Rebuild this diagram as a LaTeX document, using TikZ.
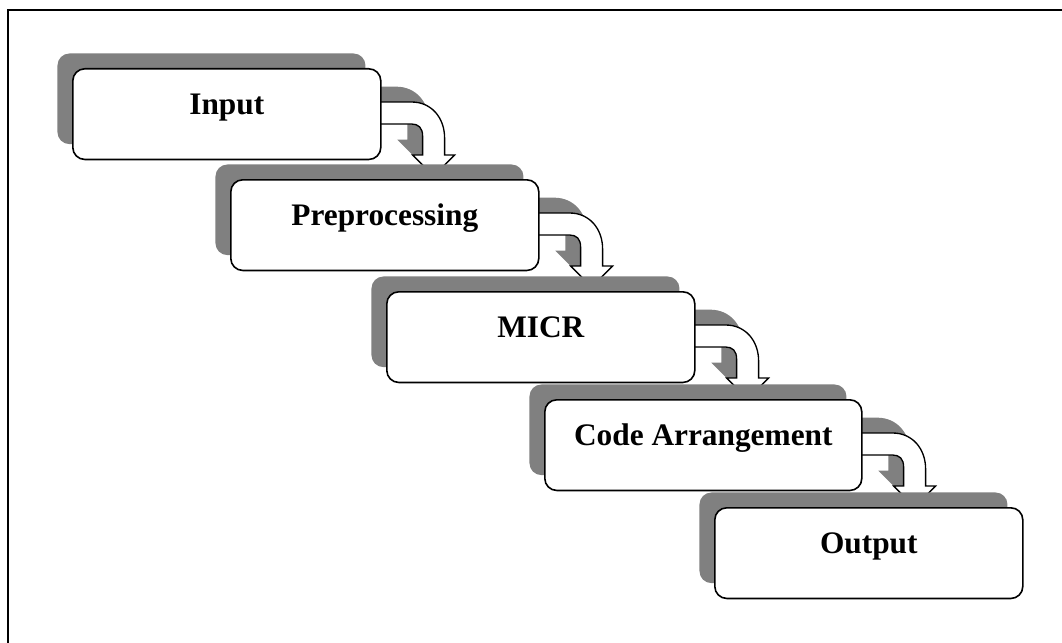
\documentclass[tikz,border=0pt]{standalone}
\usepackage{fontspec}
\setmainfont{Liberation Serif}
\usetikzlibrary{backgrounds,shadows}
\definecolor{shadowgray}{RGB}{128,128,128}
\tikzset{
    flow diagram/.style = {x=0.75pt, y=-0.75pt},
    stage shadow/.style = {drop shadow={shadow xshift=-11.5pt,
                           shadow yshift=11.5pt, opacity=1,
                           fill=shadowgray}},
    stage/.style        = {draw, line width=1.2pt, fill=white,
                           rounded corners=9pt, stage shadow,
                           anchor=north west,
                           minimum width=231pt, minimum height=68pt,
                           text height=18pt, text depth=18pt,
                           font=\fontsize{23.5}{28}\selectfont\bfseries},
    turn arrow/.style   = {draw, line width=1pt, fill=white,
                           stage shadow},
    frame/.style        = {line width=1.6pt}
}

\begin{document}
\begin{tikzpicture}[flow diagram]
\useasboundingbox (0,0) rectangle (1062,642);

% Outer frame (runs past the page on the right and bottom)
\draw[frame] (8,10) rectangle (1080,660);

% Stages
\node[stage] (input)  at (72,68)   {Input};
\node[stage] (prep)   at (230,179) {Preprocessing};
\node[stage] (micr)   at (386,291) {MICR};
\node[stage, minimum width=237.75pt] (code) at (544,399) {Code Arrangement};
\node[stage] (output) at (714,507) {Output};

% Bent arrows, tucked behind the stages
\begin{scope}[on background layer]
    \foreach \b in {input, prep, micr, code}
        \draw[turn arrow, shift={(\b.north east)}]
            (-4,34) -- (30,34) .. controls (50,34) and (63,50) .. (63,70)
            -- (63,87) -- (73,87) -- (52,108) -- (31,87) -- (41,87)
            -- (41,68) .. controls (41,60) and (37,56) .. (30,56)
            -- (-4,56) -- cycle;
\end{scope}

\end{tikzpicture}
\end{document}
